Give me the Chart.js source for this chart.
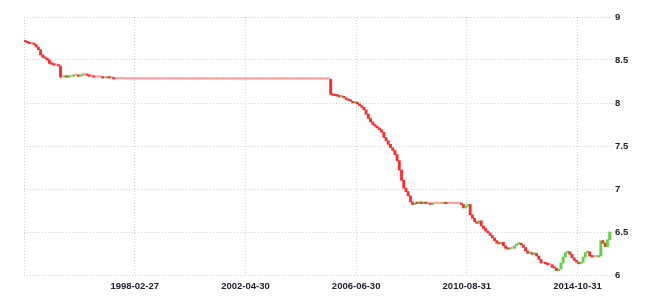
<!DOCTYPE html>
<html>
<head>
<meta charset="utf-8">
<script src="https://cdn.jsdelivr.net/npm/chart.js@4.4.0/dist/chart.umd.min.js"></script>
<style>
    body { margin: 0; background: #fff; }
    #wrap { width: 660px; height: 307px; }
</style>
</head>
<body>
<div id="wrap"><canvas id="myChart" width="660" height="307"></canvas></div>
<script>
// monthly closes, first month is 1994-01
const startYear = 1994;
const startMon = 1;
const firstOpen = 8.72;
const closeRates = [
    8.71, 8.70, 8.69, 8.69, 8.68, 8.65, 8.62, 8.56, 8.53, 8.52, 8.50, 8.46,   // 1994
    8.45, 8.44, 8.44, 8.43, 8.30, 8.30, 8.31, 8.30, 8.31, 8.31, 8.32, 8.32,   // 1995
    8.31, 8.32, 8.33, 8.33, 8.32, 8.31, 8.31, 8.30, 8.30, 8.30, 8.30, 8.29,   // 1996
    8.29, 8.30, 8.29, 8.29, 8.28, 8.28, 8.28, 8.28, 8.28, 8.278, 8.278, 8.278, // 1997
    8.278, 8.278, 8.278, 8.278, 8.278, 8.278, 8.278, 8.278, 8.278, 8.278, 8.278, 8.278, // 1998
    8.278, 8.278, 8.278, 8.278, 8.278, 8.278, 8.278, 8.278, 8.278, 8.278, 8.278, 8.278, // 1999
    8.277, 8.277, 8.277, 8.277, 8.277, 8.277, 8.277, 8.277, 8.277, 8.277, 8.277, 8.277, // 2000
    8.277, 8.277, 8.277, 8.277, 8.277, 8.277, 8.277, 8.277, 8.277, 8.277, 8.277, 8.277, // 2001
    8.277, 8.277, 8.277, 8.277, 8.277, 8.277, 8.277, 8.277, 8.277, 8.277, 8.277, 8.277, // 2002
    8.277, 8.277, 8.277, 8.277, 8.277, 8.277, 8.277, 8.277, 8.277, 8.277, 8.277, 8.277, // 2003
    8.277, 8.277, 8.277, 8.277, 8.277, 8.277, 8.277, 8.277, 8.277, 8.277, 8.277, 8.277, // 2004
    8.277, 8.277, 8.277, 8.277, 8.277, 8.277, 8.10, 8.09, 8.085, 8.08, 8.07, 8.075,    // 2005
    8.06, 8.04, 8.03, 8.02, 8.00, 8.01, 7.99, 7.97, 7.95, 7.92, 7.87, 7.82,   // 2006
    7.78, 7.75, 7.73, 7.71, 7.69, 7.66, 7.60, 7.56, 7.52, 7.48, 7.45, 7.40,   // 2007
    7.33, 7.22, 7.10, 7.01, 6.97, 6.92, 6.85, 6.82, 6.84, 6.83, 6.85, 6.83,   // 2008
    6.84, 6.83, 6.83, 6.82, 6.83, 6.83, 6.83, 6.83, 6.83, 6.835, 6.83, 6.83,  // 2009
    6.83, 6.83, 6.83, 6.83, 6.83, 6.82, 6.78, 6.80, 6.82, 6.70, 6.66, 6.62,   // 2010
    6.60, 6.63, 6.57, 6.54, 6.51, 6.49, 6.46, 6.43, 6.40, 6.37, 6.36, 6.38,   // 2011
    6.34, 6.31, 6.30, 6.31, 6.31, 6.34, 6.36, 6.37, 6.35, 6.32, 6.28, 6.25,   // 2012
    6.26, 6.24, 6.25, 6.22, 6.18, 6.14, 6.14, 6.13, 6.12, 6.12, 6.09, 6.08,   // 2013
    6.05, 6.07, 6.14, 6.21, 6.26, 6.27, 6.24, 6.20, 6.17, 6.15, 6.13, 6.15,   // 2014
    6.21, 6.26, 6.27, 6.22, 6.21, 6.21, 6.21, 6.22, 6.40, 6.37, 6.33, 6.41,   // 2015
    6.50                                                                      // 2016
];
const tickDates = ['1998-02-27', '2002-04-30', '2006-06-30', '2010-08-31', '2014-10-31'];
const yMin = 6;
const yMax = 9;
const yStep = 0.5;

const upColor = '#5cd344';
const downColor = '#ff2a2a';
const flatColor = 'rgba(255, 70, 70, 0.45)';
const gridColor = '#d0d0d0';

// months elapsed from start up to the end of the month in the date string
function monthsTo(dateStr){
    let parts = dateStr.split('-');
    return (parseInt(parts[0]) - startYear) * 12 + (parseInt(parts[1]) - startMon) + 1;
}

const candles = closeRates.map(function(c, i){
    let open = i === 0 ? firstOpen : closeRates[i - 1];
    return {x: i + 0.5, y: [open, c]};
});

const tickLabels = {};
tickDates.forEach(function(d){ tickLabels[monthsTo(d)] = d; });

const tickFont = {family: '"Liberation Sans", Arial, sans-serif', size: 9.5, weight: 'bold'};

const ctx = document.getElementById('myChart').getContext('2d');
new Chart(ctx, {
    type: 'bar',
    data: {
        datasets: [{
            data: candles,
            backgroundColor: function(c){
                let v = candles[c.dataIndex];
                if (!v) return downColor;
                let o = v.y[0], cl = v.y[1];
                if (Math.abs(cl - o) < 0.004) return flatColor;
                return cl > o ? upColor : downColor;
            },
            borderWidth: 0,
            borderSkipped: false,
            barPercentage: 1,
            categoryPercentage: 1,
            minBarLength: 1.5
        }]
    },
    options: {
        responsive: false,
        animation: false,
        layout: {padding: {left: 24, top: 17, right: 0, bottom: 0}},
        plugins: {legend: {display: false}, tooltip: {enabled: false}},
        scales: {
            x: {
                type: 'linear',
                offset: false,
                min: 0,
                max: closeRates.length + 1,
                afterBuildTicks: function(s){
                    s.ticks = [0].concat(tickDates.map(monthsTo)).map(function(v){ return {value: v}; });
                },
                afterFit: function(s){ s.height = 32; },
                ticks: {
                    callback: function(v){ return tickLabels[v] || ''; },
                    autoSkip: false,
                    maxRotation: 0,
                    padding: 6,
                    color: '#22222e',
                    font: tickFont
                },
                grid: {color: gridColor, drawTicks: false, offset: false},
                border: {display: false, dash: [1, 2]}
            },
            y: {
                position: 'right',
                min: yMin,
                max: yMax,
                afterFit: function(s){ s.width = 47; },
                ticks: {
                    stepSize: yStep,
                    callback: function(v){ return String(v); },
                    padding: 2,
                    color: '#22222e',
                    font: tickFont
                },
                grid: {color: gridColor, drawTicks: false},
                border: {display: false, dash: [1, 2]}
            }
        }
    }
});
</script>
</body>
</html>
